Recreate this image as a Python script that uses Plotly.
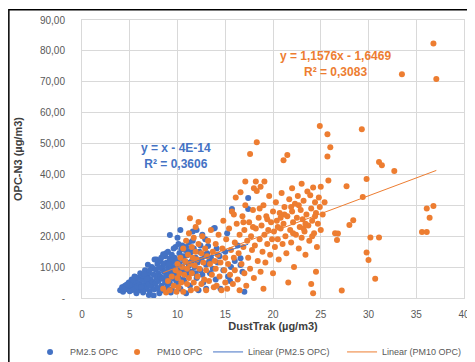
import plotly.graph_objects as go

# ---------------- data ----------------
pm25_x = [4.0, 4.2, 4.3, 4.5, 4.6, 4.8, 4.9, 5.0, 5.1, 5.2, 5.3, 5.4, 5.5, 5.5, 5.6, 5.7, 5.8, 5.9, 6.0, 6.0,
          6.1, 6.2, 6.3, 6.4, 6.4, 6.5, 6.6, 6.6, 6.7, 6.8, 6.9, 7.0, 7.0, 7.0, 7.1, 7.2, 7.3, 7.3, 7.4, 7.5,
          7.5, 7.6, 7.7, 7.7, 7.8, 7.9, 7.9, 8.0, 8.0, 8.1, 8.2, 8.2, 8.3, 8.4, 8.4, 8.5, 8.5, 8.6, 8.7, 8.7,
          8.8, 8.9, 8.9, 9.0, 9.0, 9.0, 9.1, 9.2, 9.2, 9.3, 9.3, 9.4, 9.4, 9.5, 9.5, 9.6, 9.7, 9.7, 9.8, 9.8,
          9.9, 10.0, 10.0, 10.0, 10.1, 10.2, 10.2, 10.3, 10.4, 10.4, 10.5, 10.5, 10.6, 10.7, 10.8, 10.8, 10.9,
          11.0, 11.0, 11.1, 11.2, 11.2, 11.3, 11.4, 11.5, 11.5, 11.6, 11.7, 11.8, 11.9, 12.0, 12.0, 12.1, 12.2,
          12.3, 12.4, 12.5, 12.6, 12.7, 12.8, 13.0, 13.0, 13.2, 13.4, 13.5, 13.8, 14.0, 14.2, 14.5, 14.8, 15.0,
          15.2, 15.5, 15.7, 16.0, 16.3, 16.6, 16.6, 16.8, 17.0, 17.4, 17.4, 9.2, 10.3, 13.9, 5.0, 5.6, 6.2,
          6.8, 7.4, 8.1, 8.6, 9.3, 9.9, 10.6, 11.3, 4.4, 4.7, 5.3, 6.5, 7.1, 7.8,
          8.3, 8.8, 9.6, 10.1, 10.9, 11.6, 12.4, 13.1, 13.7, 14.4, 15.3, 12.9, 11.9, 10.7, 9.4, 8.0,
          6.9, 7.6, 8.5, 9.1, 10.4, 11.1, 12.6, 13.3, 14.1, 15.6]
pm25_y = [2.5, 3.5, 2.0, 4.0, 2.8, 3.2, 5.0, 2.2, 3.8, 6.0, 2.6, 4.5, 7.0, 3.0, 5.2, 1.5, 3.8, 6.5, 2.5, 4.8,
          8.0, 3.2, 5.8, 1.8, 7.2, 4.2, 2.8, 9.0, 5.5, 3.5, 6.8, 1.0, 4.5, 8.2, 2.2, 6.0, 10.0, 3.8, 5.2, 7.5,
          0.8, 2.8, 9.2, 4.8, 6.5, 11.0, 3.2, 8.0, 5.5, 1.5, 7.0, 12.0, 4.0, 9.5, 6.2, 2.5, 10.8, 8.5, 5.0, 13.5,
          7.2, 11.5, 3.5, 9.8, 6.0, 15.0, 8.2, 12.8, 4.8, 10.5, 1.8, 7.5, 14.0, 9.0, 11.8, 6.2, 13.0, 8.0, 16.5, 10.2,
          5.0, 12.2, 9.0, 19.5, 7.0, 14.5, 11.0, 3.0, 13.0, 8.5, 17.0, 10.0, 6.0, 12.0, 15.5, 9.2, 1.5,
          11.5, 13.8, 7.5, 18.0, 10.5, 4.0, 14.8, 12.0, 8.5, 21.5, 16.0, 10.0, 13.0, 6.5, 22.0, 11.5, 2.5,
          15.0, 9.0, 12.5, 20.5, 5.0, 14.0, 10.8, 3.0, 16.8, 8.0, 13.0, 22.5, 6.0, 11.5, 3.0, 9.0, 15.0,
          21.0, 5.5, 28.8, 12.0, 17.0, 12.9, 10.7, 8.5, 2.0, 32.4, 28.8, 20.4, 22.0, 22.7, 4.2, 6.8, 3.6,
          6.2, 9.6, 9.8, 11.2, 12.2, 7.8, 13.5, 15.2, 3.0, 4.4, 5.8, 7.8, 9.0, 12.5,
          13.0, 14.5, 16.0, 17.5, 16.5, 18.5, 17.0, 14.5, 9.5, 13.5, 7.0, 19.0, 8.0, 5.5, 2.8, 3.0,
          10.8, 12.5, 14.2, 11.0, 15.8, 9.0, 7.5, 11.8, 16.0, 10.0]

pm10_x = [8.5, 8.8, 9.0, 9.2, 9.4, 9.6, 9.8, 9.9, 10.0, 10.0,
          10.1, 10.2, 10.3, 10.4, 10.5, 10.6, 10.6, 10.7, 10.8, 10.9, 11.0, 11.0, 11.1, 11.2, 11.2, 11.3, 11.3,
          11.4, 11.5, 11.5, 11.6, 11.7, 11.7, 11.8, 11.9, 11.9, 12.0, 12.0, 12.1, 12.2, 12.2, 12.3,
          12.5, 12.5, 12.6, 12.7, 12.8, 12.9, 13.0, 13.0, 13.1, 13.2, 13.3, 13.4, 13.5, 13.6, 13.7, 13.8, 13.9,
          14.0, 14.0, 14.1, 14.2, 14.3, 14.4, 14.5, 14.6, 14.7, 14.8, 14.9, 15.0, 15.0,
          15.1, 15.2, 15.3, 15.4, 15.5, 15.6, 15.7, 15.8, 15.9, 16.0, 16.0, 16.1, 16.2, 16.3, 16.4, 16.5, 16.5,
          16.6, 16.7, 16.8, 16.9, 17.0, 17.0, 17.1, 17.1, 17.2, 17.3, 17.4, 17.5, 17.6, 17.6, 17.7, 17.8, 17.9,
          18.0, 18.0, 18.1, 18.2, 18.2, 18.3, 18.3, 18.4, 18.5, 18.6, 18.7, 18.7, 18.8, 18.9, 19.0, 19.0, 19.1,
          19.1, 19.2, 19.3, 19.4, 19.5, 19.6, 19.7, 19.8, 19.9, 20.0, 20.0,
          20.1, 20.2, 20.3, 20.4, 20.5, 20.6, 20.7, 20.8, 20.9, 21.0, 21.1, 21.1, 21.2, 21.3, 21.4, 21.5, 21.5,
          21.6, 21.7, 21.8, 21.9, 22.0, 22.0, 22.1, 22.2, 22.3, 22.4, 22.5, 22.6, 22.7, 22.8, 22.9, 23.0, 23.0,
          23.1, 23.2, 23.3, 23.4, 23.5, 23.6, 23.7, 23.8, 23.9, 24.0, 24.0, 24.1, 24.2, 24.2, 24.3, 24.4, 24.5,
          24.5, 24.6, 24.7, 24.8, 24.9, 24.9, 25.0, 25.0,
          20.5, 21.2, 22.1, 22.7, 23.4, 24.1, 20.8, 21.9, 23.2, 24.4, 19.4, 18.6, 17.9, 16.9, 15.9,
          25.2, 25.4, 25.7, 25.7, 25.8, 26.0, 26.5, 26.7, 26.8, 27.2, 27.7, 28.0, 28.4, 29.4, 29.3, 29.8,
          30.2, 31.1, 29.8, 30.0, 30.7, 31.1, 31.4, 32.7, 33.5, 35.6, 36.1, 36.1, 36.4, 36.8, 36.8, 37.1]
pm10_y = [3.0, 1.8, 5.5, 2.5, 7.0, 4.0, 9.0, 2.0, 6.5, 11.0,
          3.5, 8.0, 13.0, 5.0, 10.0, 16.0, 2.0, 7.5, 12.0, 18.5, 4.5, 9.5, 14.0, 21.0, 6.5, 25.8, 11.0,
          2.5, 16.5, 8.0, 13.0, 19.5, 5.0, 10.5, 23.0, 15.0, 3.0, 12.5, 7.0, 17.5, 24.6, 9.5,
          14.5, 4.5, 20.0, 11.5, 6.0, 16.0, 2.5, 9.0, 13.5, 18.5, 5.5, 11.0, 22.0, 7.5, 15.0, 3.5, 12.0,
          17.5, 9.5, 4.0, 14.0, 20.5, 7.0, 11.5, 2.5, 16.0, 25.0, 9.0, 13.0, 5.0,
          19.0, 3.0, 11.0, 22.5, 7.5, 15.5, 28.0, 4.5, 13.0, 18.0, 9.0, 32.5, 24.0, 6.0, 14.5, 20.5, 2.5,
          34.2, 11.0, 26.5, 16.5, 8.0, 22.0, 37.7, 30.0, 4.0, 18.5, 13.0, 24.5, 46.6, 9.5, 20.0, 15.5, 28.5,
          6.5, 35.5, 17.0, 37.7, 22.5, 50.4, 34.6, 12.0, 26.0, 19.0, 36.0, 8.5, 23.5, 15.0, 30.0, 3.0, 37.7,
          20.5, 11.5, 26.5, 17.5, 22.0, 33.0, 14.0, 24.5, 19.0, 28.0, 8.0,
          21.5, 16.5, 31.0, 25.0, 19.0, 12.5, 27.5, 22.5, 34.0, 17.5, 44.6, 24.0, 29.5, 20.0, 14.5, 46.3, 26.5,
          5.0, 32.0, 22.0, 18.0, 28.0, 35.5, 24.5, 10.0, 30.5, 20.5, 26.0, 33.0, 16.0, 23.0, 28.5, 37.0, 19.5,
          25.5, 31.5, 21.5, 14.0, 27.0, 34.5, 23.5, 18.5, 33.3, 29.0, 4.5, 25.0, 35.8, 1.5, 21.0, 31.0, 27.5,
          8.5, 16.5, 24.0, 32.5, 55.7, 29.5, 22.0, 36.0,
          23.0, 27.0, 21.0, 30.0, 24.0, 20.0, 26.0, 29.5, 22.5, 26.5, 25.5, 29.0, 23.0, 24.5, 27.0,
          27.0, 31.0, 53.0, 45.8, 38.0, 48.8, 21.0, 18.8, 20.9, 2.4, 36.2, 23.6, 25.2, 32.7, 54.6, 38.5,
          19.6, 19.6, 14.7, 12.3, 6.2, 44.0, 43.0, 41.1, 72.4, 21.4, 21.4, 29.0, 26.0, 29.8, 82.4, 70.9]

# trendline equations shown on the chart
pm25_slope, pm25_icpt = 1.0, -4e-14
pm10_slope, pm10_icpt = 1.1576, -1.6469

y_ticks = [0, 10, 20, 30, 40, 50, 60, 70, 80, 90]
y_tick_text = ["-", "10,00", "20,00", "30,00", "40,00", "50,00", "60,00", "70,00", "80,00", "90,00"]
x_ticks = [0, 5, 10, 15, 20, 25, 30, 35, 40]

BLUE = "#4472c4"
ORANGE = "#ed7d31"
GRAY = "#595959"
FONT = "Liberation Sans, Arial, sans-serif"

fig = go.Figure()
fig.add_trace(go.Scatter(x=pm25_x, y=pm25_y, mode="markers", name="PM2.5 OPC", legendwidth=42,
                         marker=dict(color=BLUE, size=6, line=dict(width=0))))
fig.add_trace(go.Scatter(x=pm10_x, y=pm10_y, mode="markers", name="PM10 OPC", legendwidth=46,
                         marker=dict(color=ORANGE, size=6, line=dict(width=0))))

x25 = [min(pm25_x), max(pm25_x)]
fig.add_trace(go.Scatter(x=x25, y=[pm25_slope * v + pm25_icpt for v in x25], mode="lines",
                         name="Linear (PM2.5 OPC)", legendwidth=89, line=dict(color=BLUE, width=1)))
x10 = [min(pm10_x), max(pm10_x)]
fig.add_trace(go.Scatter(x=x10, y=[pm10_slope * v + pm10_icpt for v in x10], mode="lines",
                         name="Linear (PM10 OPC)", legendwidth=90, line=dict(color=ORANGE, width=1)))

fig.add_annotation(x=9.85, y=46, xref="x", yref="y", showarrow=False,
                   text="<b>y = x - 4E-14<br>R² = 0,3606</b>",
                   font=dict(family=FONT, size=12, color=BLUE), align="center")
fig.add_annotation(x=26.5, y=75.6, xref="x", yref="y", showarrow=False,
                   text="<b>y = 1,1576x - 1,6469<br>R² = 0,3083</b>",
                   font=dict(family=FONT, size=12, color=ORANGE), align="center")

# outer black border of the chart area (page body adds an 8px offset)
fig.add_shape(type="rect", xref="paper", yref="paper", x0=-0.1915, x1=1.1, y0=-0.4, y1=1.037,
              line=dict(color="black", width=1.5), fillcolor="rgba(0,0,0,0)", layer="above")

fig.update_layout(
    width=467, height=354,
    margin=dict(l=74, r=11, t=12, b=64, autoexpand=False),
    paper_bgcolor="white", plot_bgcolor="white",
    font=dict(family=FONT, size=10, color=GRAY),
    showlegend=True,
    legend=dict(orientation="h", xref="paper", yref="paper",
                x=-0.136, xanchor="left", y=-0.194, yanchor="middle",
                font=dict(family=FONT, size=9, color=GRAY), itemwidth=30,
                tracegroupgap=0, bgcolor="rgba(0,0,0,0)"),
    xaxis=dict(range=[0, 40], tickvals=x_ticks, showgrid=True, gridcolor="#d9d9d9", gridwidth=1,
               zeroline=False, showline=True, linecolor="#d9d9d9", mirror=True,
               ticks="outside", ticklen=7, tickcolor="rgba(0,0,0,0)",
               tickfont=dict(family=FONT, size=10, color=GRAY),
               title=dict(text="<b>DustTrak (µg/m3)</b>", standoff=2,
                          font=dict(family=FONT, size=11, color="#404040"))),
    yaxis=dict(range=[0, 90], tickvals=y_ticks, ticktext=y_tick_text, showgrid=True,
               gridcolor="#d9d9d9", gridwidth=1, zeroline=False, showline=True, linecolor="#d9d9d9",
               mirror=True, ticks="outside", ticklen=14, tickcolor="rgba(0,0,0,0)",
               tickfont=dict(family=FONT, size=10, color=GRAY),
               title=dict(text="<b>OPC-N3 (µg/m3)</b>", standoff=15,
                          font=dict(family=FONT, size=11, color="#404040"))),
)

fig.write_html("out.html")
